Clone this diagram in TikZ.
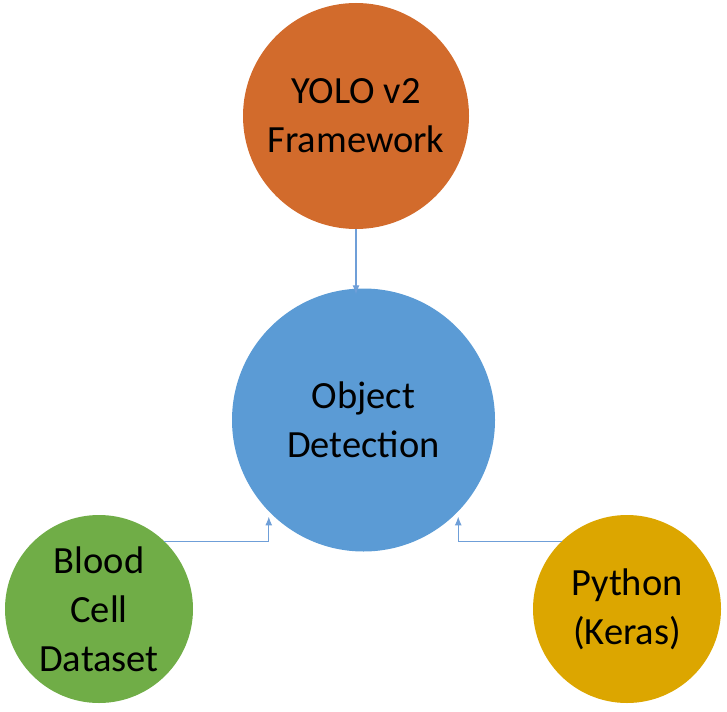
\documentclass[tikz,border=0pt]{standalone}
\usepackage{fontspec}
\setmainfont{Carlito}
\usetikzlibrary{arrows.meta}
\definecolor{cOrange}{HTML}{D26B2C}
\definecolor{cBlue}{HTML}{5B9BD5}
\definecolor{cGreen}{HTML}{70AD47}
\definecolor{cYellow}{HTML}{DCA600}
\definecolor{cLine}{HTML}{6F9FD8}
\begin{document}
\begin{tikzpicture}[x=1pt,y=-1pt,
  bubble/.style={circle,inner sep=0pt,align=center,text=black,
    font=\fontsize{38.5}{49}\selectfont},
  conn/.style={draw=cLine,line width=1.2pt,-{Latex[length=9pt,width=7pt]}}]
\useasboundingbox (0,0) rectangle (727,711);
\node[bubble,fill=cOrange,minimum size=226pt] (yolo) at (356,116) {YOLO v2\\Framework};
\node[bubble,fill=cBlue,minimum size=263pt] (obj) at (363.5,420) {Object\\Detection};
\node[bubble,fill=cGreen,minimum size=188pt] (blood) at (99,609) {Blood\\Cell\\Dataset};
\node[bubble,fill=cYellow,minimum size=188pt] (python) at (627,609) {Python\\(Keras)};
\draw[conn,shorten >=-6pt] (yolo.south) -- (yolo.south |- obj.north);
\draw[conn,shorten >=5pt] (blood.46) -| (obj.224);
\draw[conn,shorten >=5pt] (python.134) -| (obj.316);
\end{tikzpicture}
\end{document}
